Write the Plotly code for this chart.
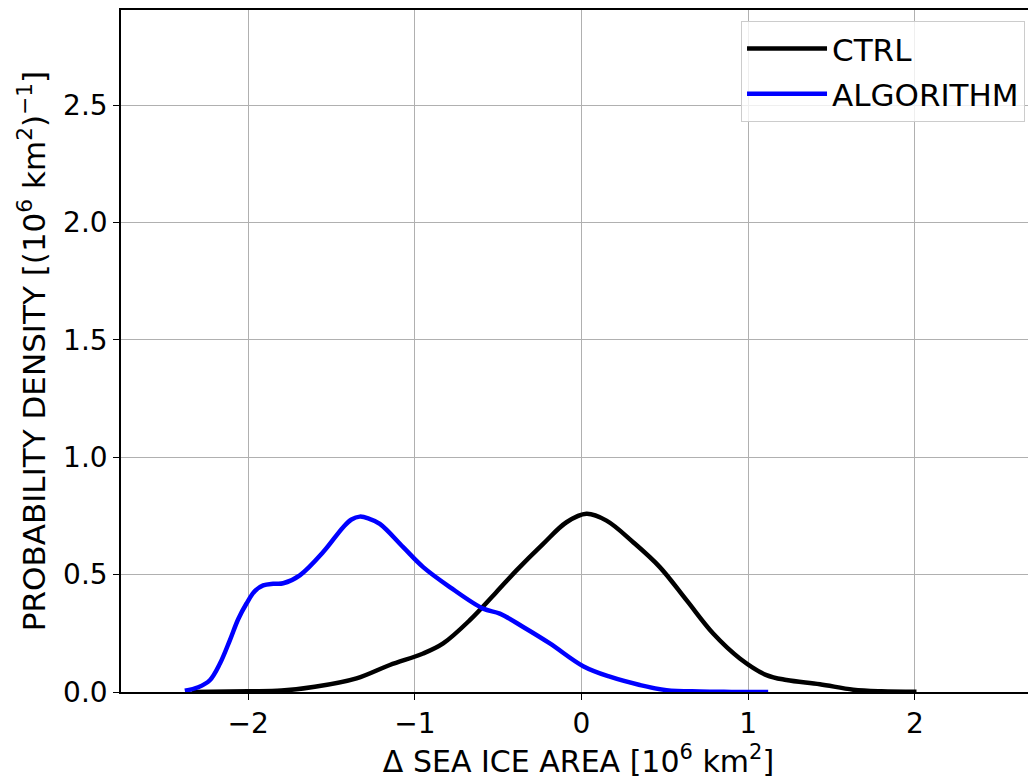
import plotly.graph_objects as go

# ---- data ----
ctrl_x = [-2.34, -2.0, -1.8, -1.6, -1.35, -1.15, -0.95, -0.83, -0.67, -0.51, -0.39, -0.23,
          -0.09, 0.03, 0.15, 0.31, 0.47, 0.63, 0.79, 0.95, 1.11, 1.23, 1.43, 1.63, 1.8, 2.01]
ctrl_y = [0.0, 0.003, 0.006, 0.022, 0.058, 0.115, 0.164, 0.207, 0.306, 0.426, 0.518, 0.631,
          0.723, 0.759, 0.730, 0.638, 0.532, 0.391, 0.249, 0.143, 0.072, 0.051, 0.033, 0.01, 0.003, 0.001]

algo_x = [-2.38, -2.30, -2.23, -2.17, -2.11, -2.06, -2.01, -1.96, -1.91, -1.85, -1.79, -1.69,
          -1.55, -1.43, -1.38, -1.33, -1.28, -1.21, -1.07, -0.95, -0.79, -0.59, -0.49, -0.35,
          -0.19, 0.01, 0.17, 0.35, 0.51, 0.71, 0.9, 1.12]
algo_y = [0.005, 0.02, 0.05, 0.12, 0.22, 0.31, 0.377, 0.43, 0.454, 0.461, 0.463, 0.497,
          0.596, 0.702, 0.735, 0.747, 0.74, 0.716, 0.617, 0.532, 0.447, 0.355, 0.334, 0.277,
          0.207, 0.11, 0.065, 0.03, 0.008, 0.002, 0.0005, 0.0]

x_ticks = [-2, -1, 0, 1, 2]
y_ticks = [0.0, 0.5, 1.0, 1.5, 2.0, 2.5]

FONT = "DejaVu Sans"
TICK_SIZE = 28
LABEL_SIZE = 30

fig = go.Figure()
fig.add_trace(go.Scatter(x=ctrl_x, y=ctrl_y, mode="lines", name="CTRL",
                         line=dict(color="black", width=4.5, shape="spline", smoothing=1.0),
                         legendgroup="a"))
fig.add_trace(go.Scatter(x=algo_x, y=algo_y, mode="lines", name="ALGORITHM",
                         line=dict(color="#0000ff", width=4.5, shape="spline", smoothing=1.0),
                         legendgroup="b"))

fig.update_layout(
    width=1036, height=777,
    margin=dict(l=113, r=8, t=0, b=93),
    paper_bgcolor="white", plot_bgcolor="white",
    font=dict(family=FONT, size=LABEL_SIZE, color="black"),
    showlegend=True,
    legend=dict(x=0.988, y=0.984, xanchor="right", yanchor="top",
                bgcolor="rgba(255,255,255,0.8)", bordercolor="#cccccc", borderwidth=1,
                font=dict(family=FONT, size=31, color="black"),
                tracegroupgap=2, itemwidth=80),
)
fig.update_xaxes(
    range=[-2.763, 2.727], tickvals=x_ticks, ticks="outside", ticklen=6, tickwidth=1.2,
    tickcolor="black", showline=True, linecolor="black", linewidth=1.5, mirror=True,
    showgrid=True, gridcolor="#b0b0b0", gridwidth=1, zeroline=False,
    tickfont=dict(size=TICK_SIZE),
    title=dict(text="Δ SEA ICE AREA [10<sup>6</sup> km<sup>2</sup>]", font=dict(size=LABEL_SIZE), standoff=0),
)
fig.update_yaxes(
    range=[0, 2.905], tickvals=y_ticks, tickformat=".1f", ticks="outside", ticklen=6, tickwidth=1.2,
    tickcolor="black", showline=True, linecolor="black", linewidth=1.5, mirror=False,
    showgrid=True, gridcolor="#b0b0b0", gridwidth=1, zeroline=False,
    tickfont=dict(size=TICK_SIZE),
    title=dict(text="PROBABILITY DENSITY [(10<sup>6</sup> km<sup>2</sup>)<sup>−1</sup>]", font=dict(size=31), standoff=8),
)

fig.write_html("out.html")
